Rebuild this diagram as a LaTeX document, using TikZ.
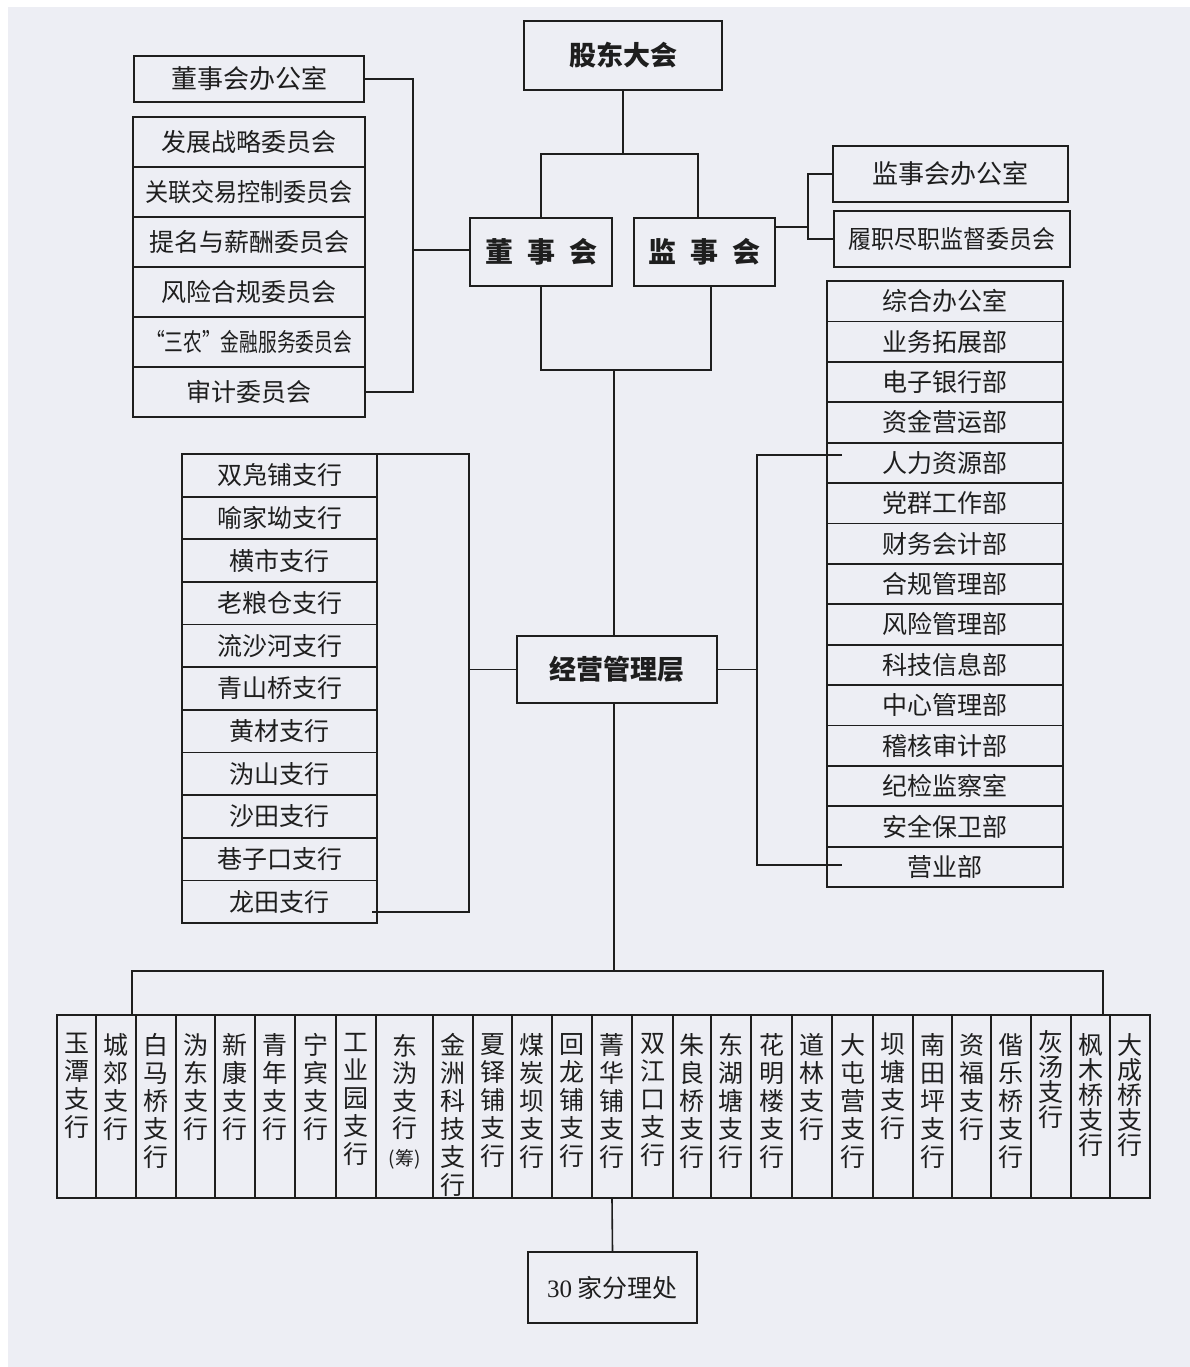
\documentclass[tikz,border=0pt]{standalone}
\usepackage{fontspec}
\usepackage{graphicx}
\setmainfont{Liberation Serif}
\newfontfamily\cjk{Noto Sans CJK SC}
\definecolor{bgc}{HTML}{EDEEF4}
\definecolor{ink}{HTML}{1E1E1E}
\begin{document}
\begin{tikzpicture}[x=1pt,y=-1pt,
  box/.style={draw=ink, line width=1.8pt, inner sep=0pt, text=ink, font=\cjk\fontsize{25}{25}\selectfont},
  bigbox/.style={box, font=\cjk\bfseries\fontsize{27}{27}\selectfont},
  ln/.style={draw=ink, line width=1.6pt},
  coltext/.style={inner sep=0pt, text=ink, align=center, anchor=north}]
\useasboundingbox (0,0) rectangle (1190,1367);
\fill[white] (0,0) rectangle (1190,1367);
\fill[bgc] (8,7) rectangle (1190,1367);

% top level
\node[bigbox, minimum width=198pt, minimum height=69pt] (gd) at (623,55.5) {股东大会};
\node[bigbox, minimum width=142pt, minimum height=68pt, font=\cjk\bfseries\fontsize{28}{28}\selectfont] (dsh) at (541,252) {董\hspace{14pt}事\hspace{14pt}会};
\node[bigbox, minimum width=141pt, minimum height=68pt, font=\cjk\bfseries\fontsize{28}{28}\selectfont] (jsh) at (704.5,252) {监\hspace{14pt}事\hspace{14pt}会};
\node[box, minimum width=235pt, minimum height=56pt, font=\cjk\fontsize{26}{26}\selectfont] (jsbgs) at (950.5,174) {监事会办公室};
\node[box, minimum width=236pt, minimum height=56pt] (lzjd) at (952,239) {\resizebox{207pt}{\height}{履职尽职监督委员会}};
\node[box, minimum width=230pt, minimum height=46pt, font=\cjk\fontsize{26}{26}\selectfont] (dsbgs) at (249,79) {董事会办公室};

% committees
\foreach \nm [count=\i] in {发展战略委员会, {\resizebox{208pt}{\height}{关联交易控制委员会}}, 提名与薪酬委员会, 风险合规委员会, {\resizebox{206pt}{\height}{“三农”金融服务委员会}}, 审计委员会}
  \node[box, minimum width=232pt, minimum height=50pt] (c\i) at (249,92+50*\i) {\nm};

% management
\node[bigbox, minimum width=200pt, minimum height=67pt] (jyg) at (617,669.5) {经营管理层};

% left branches
\foreach \nm [count=\i] in {双凫铺支行, 喻家坳支行, 横市支行, 老粮仓支行, 流沙河支行, 青山桥支行, 黄材支行, 沩山支行, 沙田支行, 巷子口支行, 龙田支行}
  \node[box, minimum width=195pt, minimum height=42.64pt] (b\i) at (279.5,454+42.64*\i-21.32) {\nm};

% right departments
\foreach \nm [count=\i] in {综合办公室, 业务拓展部, 电子银行部, 资金营运部, 人力资源部, 党群工作部, 财务会计部, 合规管理部, 风险管理部, 科技信息部, 中心管理部, 稽核审计部, 纪检监察室, 安全保卫部, 营业部}
  \node[box, minimum width=236pt, minimum height=40.4pt] (d\i) at (945,281+40.4*\i-20.2) {\nm};

% bottom branch columns
\foreach \l/\r/\sp/\tp/\nm [count=\i] in {
  57/96/28/1033/{玉\\潭\\支\\行},
  96/136/28/1033/{城\\郊\\支\\行},
  136/176/28/1033/{白\\马\\桥\\支\\行},
  176/215/28/1033/{沩\\东\\支\\行},
  215/255/28/1033/{新\\康\\支\\行},
  255/295/28/1033/{青\\年\\支\\行},
  295/336/28/1033/{宁\\宾\\支\\行},
  336/376/28/1033/{工\\业\\园\\支\\行},
  376/433/27.5/1034/{东\\沩\\支\\行\\{\fontsize{19}{19}\selectfont(筹)}},
  433/473/28/1033/{金\\洲\\科\\技\\支\\行},
  473/512/28/1033/{夏\\铎\\铺\\支\\行},
  512/552/28/1033/{煤\\炭\\坝\\支\\行},
  552/592/28/1033/{回\\龙\\铺\\支\\行},
  592/632/28/1033/{菁\\华\\铺\\支\\行},
  632/673/28/1033/{双\\江\\口\\支\\行},
  673/711/28/1033/{朱\\良\\桥\\支\\行},
  711/751/28/1033/{东\\湖\\塘\\支\\行},
  751/792/28/1033/{花\\明\\楼\\支\\行},
  792/832/28/1033/{道\\林\\支\\行},
  832/873/28/1033/{大\\屯\\营\\支\\行},
  873/913/28/1033/{坝\\塘\\支\\行},
  913/952/28/1033/{南\\田\\坪\\支\\行},
  952/991/28/1033/{资\\福\\支\\行},
  991/1031/28/1033/{偕\\乐\\桥\\支\\行},
  1031/1071/25/1030/{灰\\汤\\支\\行},
  1071/1110/25/1033/{枫\\木\\桥\\支\\行},
  1110/1150/25/1033/{大\\成\\桥\\支\\行}}
{
  \pgfmathsetmacro\w{\r-\l}
  \pgfmathsetmacro\cx{(\r+\l)/2}
  \node[box, minimum width=\w pt, minimum height=183pt] (k\i) at (\cx,1106.5) {};
  \node[coltext, font=\cjk\fontsize{25}{\sp}\selectfont] (kt\i) at (\cx,\tp) {\nm};
}

\node[box, minimum width=169pt, minimum height=71pt] (fl) at (612.5,1287.5) {{\rmfamily 30} 家分理处};

% connectors: top
\coordinate (j1) at (623,154);
\draw[ln] (gd.south) -- (j1);
\draw[ln] (dsh.north) |- (j1);
\draw[ln] ([xshift=-6.5pt]jsh.north) |- (j1);

% supervisory board bracket
\coordinate (jb) at (808,227);
\draw[ln] (jb -| jsh.east) -- (jb);
\draw[ln] (jsbgs.west) -| (jb) |- (lzjd.west);

% board bracket
\coordinate (tv) at (413,250);
\draw[ln] (dsbgs.east) -| (tv) |- (c6.east);
\draw[ln] (tv) -- (tv -| dsh.west);

% board / supervisors down to management
\coordinate (j2) at (614,370);
\draw[ln] (dsh.south) |- (j2);
\draw[ln] ([xshift=6.5pt]jsh.south) |- (j2);
\draw[ln] (j2) -- (j2 |- jyg.north);

% left branch bracket
\coordinate (lt) at (377,454);
\coordinate (lb) at (372,912);
\coordinate (lv) at (469,670);
\draw[ln] (lt) -| (lv) |- (lb);
\draw[ln] (jyg.west) -- (jyg.west -| lv);

% right department bracket
\coordinate (rt) at (842,455);
\coordinate (rb) at (842,865);
\coordinate (rv) at (757,670);
\draw[ln] (rt) -| (rv) |- (rb);
\draw[ln] (jyg.east) -- (jyg.east -| rv);

% down to branch row
\coordinate (j3) at (614,971);
\draw[ln] (j3 |- jyg.south) -- (j3);
\draw[ln] ([xshift=16pt]k2.north) |- (j3) -| ([xshift=12.5pt]k26.north);

% down to sub-branches
\draw[ln] (k14.south) -- (fl.north);
\end{tikzpicture}
\end{document}
